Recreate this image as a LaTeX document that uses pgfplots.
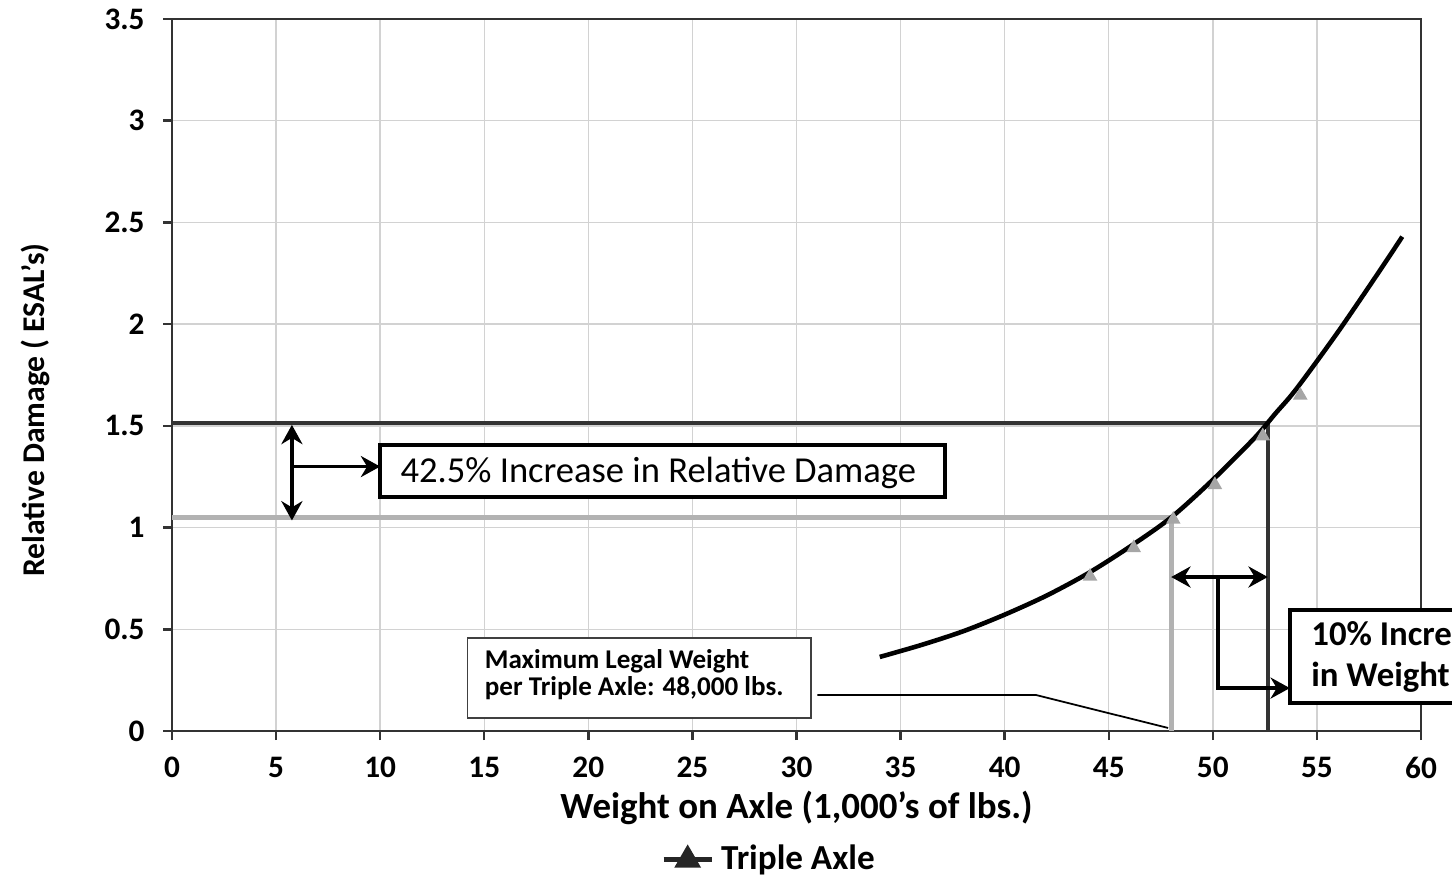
\documentclass[border=0pt]{standalone}
\usepackage{fontspec}
\setmainfont{Carlito}
\usepackage{pgfplots}
\pgfplotsset{compat=1.18}
\usetikzlibrary{arrows.meta}
\tikzset{tip/.tip={Stealth[length=5.5pt,width=6pt]}}

\begin{document}
\begin{tikzpicture}
\path[use as bounding box] (0,0) rectangle (14.52cm,8.80cm);
\clip (0,0) rectangle (14.52cm,8.80cm);
\begin{axis}[
    at={(1.72cm,1.49cm)}, anchor=south west,
    scale only axis, width=12.49cm, height=7.12cm,
    xmin=0, xmax=60, ymin=0, ymax=3.5,
    xtick={0,5,10,15,20,25,30,35,40,45,50,55,60},
    ytick={0,0.5,1,1.5,2,2.5,3,3.5},
    grid=major,
    major grid style={gray!35, line width=0.4pt},
    axis line style={black!80, line width=0.7pt},
    tick align=outside, tick pos=left,
    major tick length=0.09cm,
    tick style={black!80, line width=0.7pt},
    /pgf/number format/assume math mode=true,
    ticklabel style={font=\bfseries\fontsize{8.9}{10}\selectfont},
    xticklabel style={yshift=-0.05cm},
    yticklabel style={xshift=-0.06cm},
    xlabel={Weight on Axle (1,000's of lbs.)},
    ylabel={Relative Damage ( ESAL's)},
    xlabel style={at={(axis description cs:0.5,-0.108)}, anchor=center,
        font=\bfseries\fontsize{10.5}{12}\selectfont},
    ylabel style={at={(axis description cs:-0.1097,0.451)}, anchor=center,
        font=\bfseries\fontsize{9}{10}\selectfont},
    legend style={at={(0.48,-0.181)}, anchor=center, draw=none, fill=none,
        font=\bfseries\fontsize{10}{12}\selectfont},
    legend image code/.code={
        \draw[mark repeat=2, mark phase=2, #1]
            plot coordinates {(0cm,0cm) (0.24cm,0cm) (0.48cm,0cm)};},
    clip=false,
]

% reference lines at legal and +10% weight
\draw[gray!60, line width=1.4pt] (axis cs:0,1.05) -- (axis cs:48,1.05) -- (axis cs:48,0);
\draw[black!80, line width=1.15pt] (axis cs:0,1.514) -- (axis cs:52.64,1.514) -- (axis cs:52.64,0);

% damage curve and data points
\addplot[black, line width=1.3pt, smooth, forget plot] coordinates {
    (34,0.364) (36,0.423) (38,0.49) (40,0.572) (42,0.665) (44,0.775)
    (46,0.905) (48,1.05) (50,1.235) (52,1.44) (53,1.56) (54,1.68)
    (56,1.96) (58,2.26) (59.1,2.43)
};
\addplot[only marks, mark=triangle*, mark size=2pt, gray!70, forget plot] coordinates {
    (44.1,0.76) (46.2,0.9) (48.1,1.04) (50.1,1.21) (52.4,1.45) (54.2,1.65)
};
\addlegendimage{black!85, line width=1.4pt, mark=triangle*, mark size=3pt}
\addlegendentry{Triple Axle}

% 42.5% damage annotation
\draw[line width=1.1pt, tip-tip] (axis cs:5.76,1.505) -- (axis cs:5.76,1.035);
\draw[line width=1.1pt, -tip] (axis cs:5.76,1.30) -- (axis cs:10,1.30);
\draw[line width=1.2pt, fill=white] (axis cs:10,1.406) rectangle (axis cs:37.13,1.15);
\node[anchor=west, inner sep=0pt, font=\fontsize{10.4}{12}\selectfont]
    at (axis cs:10.95,1.27) {42.5\% Increase in Relative Damage};

% 10% weight annotation
\draw[line width=1.1pt, tip-tip] (axis cs:48,0.757) -- (axis cs:52.64,0.757);
\draw[line width=1.0pt, -tip]
    (axis cs:50.24,0.757) -- (axis cs:50.24,0.211) -- (axis cs:53.7,0.211);
\draw[line width=1.2pt, fill=white] (axis cs:53.7,0.595) rectangle (axis cs:68,0.138);
\node[anchor=west, inner sep=0pt, align=left, font=\bfseries\fontsize{9.9}{11.4}\selectfont]
    at (axis cs:54.7,0.364) {10\% Increase\\in Weight};

% legal weight callout
\draw[black!75, line width=0.5pt, fill=white] (axis cs:14.2,0.457) rectangle (axis cs:30.7,0.064);
\node[anchor=west, inner sep=0pt, align=left, font=\bfseries\fontsize{7.7}{7.7}\selectfont]
    at (axis cs:15.0,0.278) {Maximum Legal Weight\\per Triple Axle: 48,000 lbs.};
\draw[black, line width=0.5pt] (axis cs:31.0,0.177) -- (axis cs:41.5,0.177) -- (axis cs:47.85,0.015);

\end{axis}
\end{tikzpicture}
\end{document}
